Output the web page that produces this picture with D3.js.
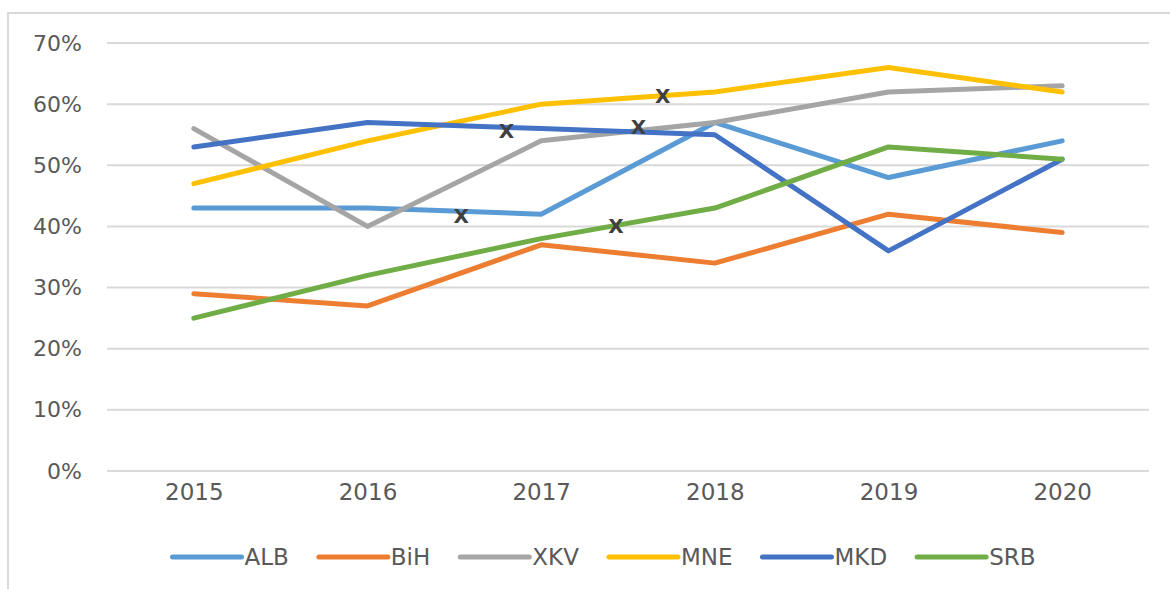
<!DOCTYPE html>
<html>
<head>
<meta charset="utf-8">
<script src="https://cdn.jsdelivr.net/npm/d3@7"></script>
<style>
  body { margin: 0; background: #fff; }
  text { font-family: "DejaVu Sans", sans-serif; fill: #595959; }
</style>
</head>
<body>
<div id="chart"></div>
<script>
const years = [2015, 2016, 2017, 2018, 2019, 2020];
const yTicks = [0, 0.1, 0.2, 0.3, 0.4, 0.5, 0.6, 0.7];

const seriesNames = ["ALB", "BiH", "XKV", "MNE", "MKD", "SRB"];
const seriesColors = ["#5B9BD5", "#ED7D31", "#A5A5A5", "#FFC000", "#4472C4", "#70AD47"];

const alb = [0.43, 0.43, 0.42, 0.57, 0.48, 0.54];
const bih = [0.29, 0.27, 0.37, 0.34, 0.42, 0.39];
const xkv = [0.56, 0.40, 0.54, 0.57, 0.62, 0.63];
const mne = [0.47, 0.54, 0.60, 0.62, 0.66, 0.62];
const mkd = [0.53, 0.57, 0.56, 0.55, 0.36, 0.51];
const srb = [0.25, 0.32, 0.38, 0.43, 0.53, 0.51];

// "X" marks drawn on the chart (year position, value)
const markYears = [2016.54, 2016.80, 2017.43, 2017.56, 2017.70];
const markValues = [0.417, 0.556, 0.401, 0.563, 0.614];

const seriesValues = [alb, bih, xkv, mne, mkd, srb];

const width = 1170, height = 589;

const svg = d3.select("#chart")
    .append("svg")
    .attr("width", width)
    .attr("height", height);

// outer frame (cut off at right/bottom like the reference)
svg.append("rect")
    .attr("x", 8)
    .attr("y", 13)
    .attr("width", width + 20)
    .attr("height", height + 20)
    .attr("fill", "none")
    .attr("stroke", "#d9d9d9")
    .attr("stroke-width", 2);

const x = d3.scalePoint()
    .domain(years)
    .range([107, 1149])
    .padding(0.5);

const xYear = d3.scaleLinear()
    .domain([years[0], years[years.length - 1]])
    .range([x(years[0]), x(years[years.length - 1])]);

const y = d3.scaleLinear()
    .domain([0, 0.7])
    .range([471, 43]);

// gridlines
svg.append("g")
    .selectAll("line")
    .data(yTicks)
    .enter()
    .append("line")
    .attr("x1", 107)
    .attr("x2", 1149)
    .attr("y1", d => y(d))
    .attr("y2", d => y(d))
    .attr("stroke", "#d9d9d9")
    .attr("stroke-width", 2);

// y axis labels
const yAxis = svg.append("g")
    .attr("transform", "translate(82,0)")
    .call(d3.axisLeft(y).tickValues(yTicks).tickFormat(d3.format(".0%")).tickSize(0).tickPadding(0));
yAxis.select(".domain").remove();
yAxis.selectAll("text")
    .style("font-size", "22px")
    .style("font-family", "DejaVu Sans, sans-serif")
    .attr("fill", "#595959");

// x axis labels
const xAxis = svg.append("g")
    .attr("transform", "translate(0,484)")
    .call(d3.axisBottom(x).tickSize(0).tickPadding(0));
xAxis.select(".domain").remove();
xAxis.selectAll("text")
    .style("font-size", "23px")
    .style("font-family", "DejaVu Sans, sans-serif")
    .attr("fill", "#595959");

// series lines
const line = d3.line()
    .x((d, i) => x(years[i]))
    .y(d => y(d));

svg.append("g")
    .selectAll("path")
    .data(seriesValues)
    .enter()
    .append("path")
    .attr("d", d => line(d))
    .attr("fill", "none")
    .attr("stroke", (d, i) => seriesColors[i])
    .attr("stroke-width", 5)
    .attr("stroke-linecap", "round")
    .attr("stroke-linejoin", "round");

// X marks
svg.append("g")
    .selectAll("text")
    .data(markYears)
    .enter()
    .append("text")
    .attr("x", d => xYear(d))
    .attr("y", (d, i) => y(markValues[i]))
    .attr("text-anchor", "middle")
    .attr("dominant-baseline", "central")
    .style("font-size", "20px")
    .style("font-weight", "bold")
    .style("fill", "#404040")
    .text("X");

// legend
const legend = svg.append("g");
const items = legend.selectAll("g")
    .data(seriesNames)
    .enter()
    .append("g");

items.append("line")
    .attr("x1", 0)
    .attr("x2", 69)
    .attr("y1", 0)
    .attr("y2", 0)
    .attr("stroke", (d, i) => seriesColors[i])
    .attr("stroke-width", 5)
    .attr("stroke-linecap", "round");

items.append("text")
    .attr("x", 72)
    .attr("y", 0)
    .attr("dy", "0.36em")
    .style("font-size", "23px")
    .text(d => d);

let offset = 0;
items.each(function() {
    const g = d3.select(this);
    g.attr("transform", `translate(${offset},0)`);
    const w = 72 + g.select("text").node().getComputedTextLength();
    offset += w + 30;
});
const total = offset - 30;
legend.attr("transform", `translate(${604 - total / 2},557)`);
</script>
</body>
</html>
